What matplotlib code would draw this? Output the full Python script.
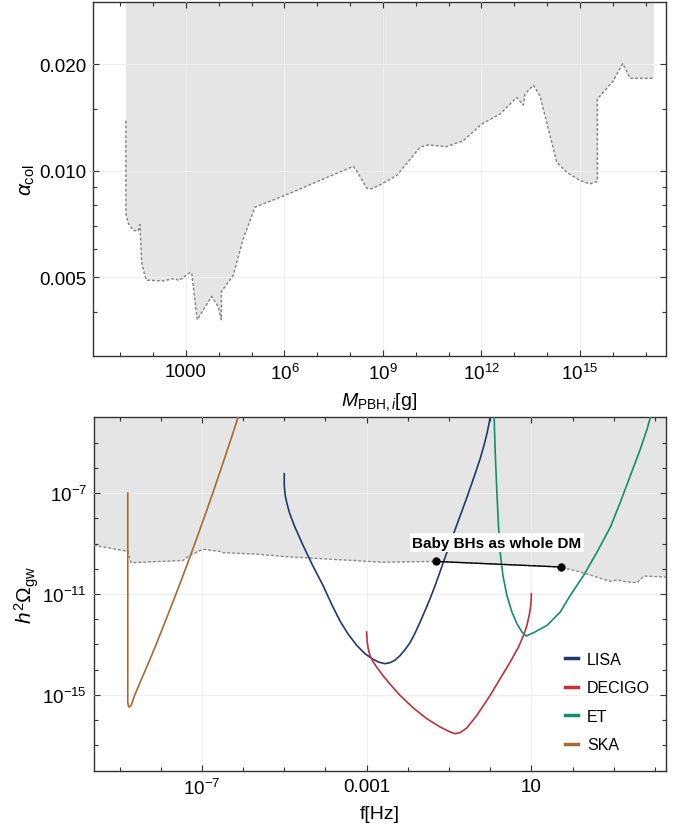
import numpy as np
import matplotlib.pyplot as plt

plt.rcParams['font.family'] = ['Liberation Sans', 'DejaVu Sans']
plt.rcParams['mathtext.fontset'] = 'custom'
plt.rcParams['mathtext.rm'] = 'Liberation Sans'
plt.rcParams['mathtext.it'] = 'Liberation Sans:italic'
plt.rcParams['mathtext.bf'] = 'Liberation Sans:bold'

# ---- top panel: collapse fraction bound (log10 M [g], alpha_col) ----
top_logM = [1.172, 1.172, 1.18, 1.25, 1.395, 1.547, 1.599, 1.651, 1.75, 1.803,
            2.309, 2.665, 2.78, 3.122, 3.174, 3.344, 3.783, 3.984, 4.075, 4.08,
            4.44, 4.745, 5.102, 5.964, 8.096, 8.20, 8.504, 8.656, 8.909, 9.418,
            10.128, 10.380, 10.941, 11.446, 12.007, 12.564, 13.073, 13.274, 13.326,
            13.579, 13.783, 14.292, 14.596, 15.001, 15.306, 15.528, 15.528, 16.015,
            16.302, 16.524, 17.255]
top_alpha = [0.01386, 0.0079, 0.0075, 0.0071, 0.00679, 0.00677, 0.00705, 0.00553,
             0.00505, 0.00491, 0.00489, 0.00497, 0.00490, 0.00516, 0.00516, 0.0038,
             0.00442, 0.00414, 0.0038, 0.00456, 0.00507, 0.00643, 0.00790, 0.00849,
             0.0103, 0.0100, 0.00894, 0.00890, 0.00913, 0.0097, 0.01166, 0.01184,
             0.01171, 0.01217, 0.01356, 0.01447, 0.01612, 0.01534, 0.01648, 0.01747,
             0.01630, 0.01058, 0.00991, 0.00939, 0.00919, 0.00933, 0.01594, 0.01797,
             0.0201, 0.01827, 0.01827]

# ---- bottom panel: sensitivity curves (log10 f [Hz], log10 h^2 Omega_gw) ----
lisa_logf = [-5.0, -5.0, -4.976, -4.927, -4.866, -4.745, -4.543, -4.307, -4.056, -3.844,
             -3.650, -3.455, -3.243, -3.041, -2.839, -2.701, -2.555, -2.433, -2.311,
             -2.190, -2.068, -1.946, -1.825, -1.703, -1.582, -1.460, -1.338, -1.217,
             -1.054, -0.852, -0.567, -0.365, -0.243, -0.146, -0.073, -0.024, 0.0, 0.024]
lisa_logh = [-6.236, -6.711, -7.107, -7.463, -7.820, -8.335, -9.075, -9.879, -10.671,
             -11.424, -12.057, -12.572, -13.028, -13.364, -13.590, -13.701, -13.760,
             -13.721, -13.622, -13.444, -13.206, -12.929, -12.552, -12.117, -11.661,
             -11.186, -10.671, -10.117, -9.364, -8.453, -7.186, -6.236, -5.642, -5.087,
             -4.612, -4.216, -3.99, -3.661]

decigo_logf = [-3.0, -2.985, -2.961, -2.920, -2.839, -2.757, -2.596, -2.392, -2.190,
               -1.866, -1.540, -1.217, -0.973, -0.852, -0.730, -0.567, -0.324, 0.0,
               0.243, 0.487, 0.689, 0.810, 0.893, 0.956, 0.985, 0.998, 1.0]
decigo_logh = [-12.505, -12.901, -13.166, -13.432, -13.693, -13.891, -14.248, -14.644,
               -15.016, -15.515, -15.939, -16.267, -16.465, -16.533, -16.493, -16.307,
               -15.808, -15.016, -14.354, -13.693, -13.099, -12.640, -12.244, -11.780,
               -11.451, -11.186, -10.988]

et_logf = [0.085, 0.097, 0.122, 0.163, 0.202, 0.243, 0.309, 0.406, 0.528, 0.650,
           0.771, 0.876, 1.054, 1.380, 1.703, 1.946, 2.270, 2.596, 2.920, 3.163,
           3.406, 3.650, 3.813, 3.893, 3.95]
et_logh = [-3.5, -3.99, -5.376, -6.960, -8.283, -9.337, -10.263, -11.055, -11.713,
           -12.176, -12.505, -12.663, -12.533, -12.244, -11.713, -11.055, -10.263,
           -9.337, -8.347, -7.356, -6.303, -5.246, -4.453, -3.99, -3.6]

ska_logf = [-8.80, -8.80, -8.783, -8.759, -8.718, -8.637, -8.516, -8.313, -8.110,
            -7.908, -7.705, -7.502, -7.299, -7.097, -6.894, -6.691, -6.488, -6.285,
            -6.107, -6.05]
ska_logh = [-7.0, -15.28, -15.45, -15.475, -15.41, -15.03, -14.56, -13.79, -12.996,
            -12.164, -11.317, -10.461, -9.574, -8.665, -7.741, -6.79, -5.81, -4.82,
            -3.93, -3.6]

bound_logf = [-9.62, -8.80, -8.72, -7.46, -7.30, -6.98, -6.57, -6.49, -5.68, -4.87,
              -2.60, -1.32, 1.71, 2.19, 2.92, 3.10, 3.30, 3.57, 3.73, 4.27]
bound_logh = [-9.07, -9.31, -9.76, -9.67, -9.47, -9.23, -9.31, -9.36, -9.42, -9.53,
              -9.74, -9.71, -9.93, -10.13, -10.50, -10.44, -10.52, -10.55, -10.29, -10.33]

dm_logf = [-1.32, 1.71]
dm_logh = [-9.71, -9.93]

colors = {'LISA': '#23386b', 'DECIGO': '#c23039', 'ET': '#12906a', 'SKA': '#a86a2e'}
fill_c = '#e5e5e5'

fig = plt.figure(figsize=(6.84, 8.29), dpi=100)
ax1 = fig.add_axes([93 / 684, 1 - 357 / 829, 573 / 684, 354 / 829])
ax2 = fig.add_axes([94 / 684, 1 - 771.7 / 829, 572 / 684, 353.4 / 829])


def style(ax):
    ax.tick_params(which='both', direction='in', top=True, right=True,
                   labelsize=13.5, color='#333333', width=0.8, pad=5)
    ax.tick_params(which='major', length=4.5)
    ax.tick_params(which='minor', length=2.8)
    for s in ax.spines.values():
        s.set_color('#333333')
        s.set_linewidth(1.0)
    ax.grid(True, which='major', color='#efefef', lw=0.8)
    ax.set_axisbelow(False)


# ---------- top ----------
M = 10 ** np.array(top_logM)
ax1.fill_between(M, top_alpha, 1.0, color=fill_c, lw=0, zorder=1)
ax1.plot(M, top_alpha, color='#808080', lw=1.0, ls=(0, (2, 1.5)), zorder=3)
for e in [3, 6, 9, 12, 15]:
    ax1.plot([10.0 ** e] * 2, [0.02, 0.03], color='#a8a8a8', lw=0.8, zorder=2)
ax1.plot([1e12, 1e15], [0.005, 0.005], color='#bdbdbd', lw=0.8, zorder=2)
ax1.set_xscale('log')
ax1.set_yscale('log')
ax1.set_xlim(10 ** 0.17, 10 ** 17.62)
ax1.set_ylim(0.003, 0.03)
ax1.set_xticks([1e3, 1e6, 1e9, 1e12, 1e15],
               ['1000', '$10^6$', '$10^9$', '$10^{12}$', '$10^{15}$'])
ax1.set_xticks([10.0 ** e for e in range(1, 18)], minor=True)
ax1.set_xticklabels([], minor=True)
ax1.set_yticks([0.005, 0.01, 0.02], ['0.005', '0.010', '0.020'])
ax1.set_yticks([0.004, 0.006, 0.007, 0.008, 0.009, 0.015], minor=True)
ax1.set_yticklabels([], minor=True)
style(ax1)
ax1.set_xlabel(r'$M_{\mathrm{PBH},i}$[g]', fontsize=14, labelpad=5)
ax1.set_ylabel(r'$\alpha_{\mathrm{col}}$', fontsize=15, labelpad=1)

# ---------- bottom ----------
bf = 10 ** np.array(bound_logf)
ax2.fill_between(bf, 10 ** np.array(bound_logh), 1.0, color=fill_c, lw=0, zorder=1)
ax2.plot(bf, 10 ** np.array(bound_logh), color='#8a8a8a', lw=1.0,
         ls=(0, (2, 1.5)), zorder=3)
for e in [-7, -11, -15]:
    ax2.plot([1e-3, 1e1], [10.0 ** e] * 2, color='#b4b4b4', lw=0.8, zorder=2)
ax2.plot([1e1, 1e1], [1e-11, 1e-4], color='#d2d2d2', lw=0.8, zorder=2)

curves = [('LISA', lisa_logf, lisa_logh), ('DECIGO', decigo_logf, decigo_logh),
          ('ET', et_logf, et_logh), ('SKA', ska_logf, ska_logh)]
for name, lf, lh in curves:
    ax2.plot(10 ** np.array(lf), 10 ** np.array(lh), color=colors[name], lw=1.2,
             label=name, zorder=4)

ax2.plot(10 ** np.array(dm_logf), 10 ** np.array(dm_logh), color='black', lw=1.0,
         marker='o', ms=5, zorder=6)
ax2.text(10 ** 0.163, 10 ** -8.96, 'Baby BHs as whole DM', fontsize=11,
         fontweight='bold', ha='center', va='center', zorder=7,
         bbox=dict(facecolor='white', edgecolor='none', pad=1.5))

ax2.set_xscale('log')
ax2.set_yscale('log')
ax2.set_xlim(10 ** -9.62, 10 ** 4.27)
ax2.set_ylim(1e-18, 1e-4)
ax2.set_xticks([1e-7, 1e-3, 1e1], ['$10^{-7}$', '0.001', '10'])
ax2.set_xticks([10.0 ** e for e in range(-9, 5)], minor=True)
ax2.set_xticklabels([], minor=True)
ax2.set_yticks([1e-15, 1e-11, 1e-7], ['$10^{-15}$', '$10^{-11}$', '$10^{-7}$'])
ax2.set_yticks([10.0 ** e for e in range(-17, -4)], minor=True)
ax2.set_yticklabels([], minor=True)
style(ax2)
ax2.set_xlabel('f[Hz]', fontsize=14, labelpad=5)
ax2.set_ylabel(r'$h^2\Omega_{\mathrm{gw}}$', fontsize=15, labelpad=1)

leg = ax2.legend(loc='upper left', bbox_to_anchor=(0.823, 0.337), frameon=False,
                 fontsize=11.5, handlelength=0.85, handletextpad=0.55,
                 labelspacing=0.85, borderaxespad=0, borderpad=0)
for h in leg.get_lines():
    h.set_linewidth(2.5)

fig.savefig('out.png', dpi=100)
